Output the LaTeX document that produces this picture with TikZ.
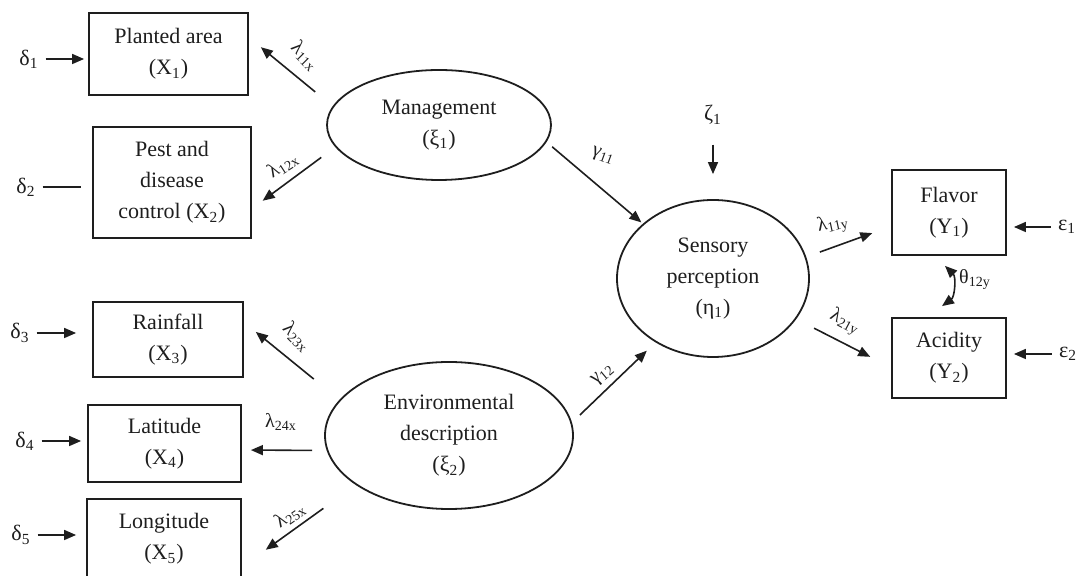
\documentclass[tikz,border=0pt]{standalone}
\usepackage{fontspec}
\setmainfont{Liberation Serif}
\usetikzlibrary{arrows.meta,shapes.geometric}
\definecolor{pathink}{HTML}{1E1E1E}
\newcommand{\idx}[1]{\textsubscript{#1}}

\begin{document}
\begin{tikzpicture}[x=0.5pt, y=-0.5pt, >={Triangle[length=6pt,width=5pt]},
                    every node/.style={pathink, font=\fontsize{11}{15.5}\selectfont},
                    obsbox/.style={draw, line width=0.9pt, align=center, inner sep=0pt},
                    latent/.style={draw, ellipse, line width=0.9pt, align=center, inner sep=0pt},
                    errline/.style={pathink, line width=0.8pt},
                    load/.style={errline, ->},
                    coef/.style={font=\fontsize{10}{12}\selectfont, inner sep=1pt}]

  \useasboundingbox (0,0) rectangle (1077,576);

  %% ---- observed indicators of the exogenous constructs ----
  \node[obsbox, minimum width=79.5pt, minimum height=41pt]   (pa)   at (168.5,54)  {Planted area\\(X\idx{1})};
  \node[obsbox, minimum width=79pt,   minimum height=55.5pt] (pdc)  at (172,182.5) {Pest and\\disease\\control (X\idx{2})};
  \node[obsbox, minimum width=75pt,   minimum height=37.5pt] (rain) at (168,339.5) {Rainfall\\(X\idx{3})};
  \node[obsbox, minimum width=76.5pt, minimum height=38.5pt] (lat)  at (164.5,443.5) {Latitude\\(X\idx{4})};
  \node[obsbox, minimum width=77pt,   minimum height=40pt]   (lon)  at (164,539)   {Longitude\\(X\idx{5})};

  %% measurement errors delta
  \node (d1) at (29,59)  {δ\idx{1}};
  \node (d2) at (26,187) {δ\idx{2}};
  \node (d3) at (20,333) {δ\idx{3}};
  \node (d4) at (25,441) {δ\idx{4}};
  \node (d5) at (21,535) {δ\idx{5}};
  \draw[load, shorten >=2pt]      (d1.east) -- (d1.east -| pa.west);
  \draw[errline, shorten >=5.5pt] (d2.east) -- (d2.east -| pdc.west);
  \draw[load, shorten >=8pt]      (d3.east) -- (d3.east -| rain.west);
  \draw[load, shorten >=3pt]      (d4.east) -- (d4.east -| lat.west);
  \draw[load, shorten >=5pt]      (d5.east) -- (d5.east -| lon.west);

  %% ---- latent constructs ----
  \node[latent, minimum width=112pt, minimum height=55pt]   (mgmt) at (439,125)   {Management\\(ξ\idx{1})};
  \node[latent, minimum width=124pt, minimum height=73.5pt] (env)  at (449,435.5) {Environmental\\description\\(ξ\idx{2})};
  \node[latent, minimum width=96pt,  minimum height=78.5pt] (sens) at (713,278.5) {Sensory\\perception\\(η\idx{1})};

  %% loadings of management
  \draw[load, shorten <=11.3pt, shorten >=7.7pt] (mgmt.170) -- ([yshift=8.3pt]pa.east);
  \draw[load, shorten <=8.7pt,  shorten >=6.7pt] (mgmt.192) -- ([yshift=-13.1pt]pdc.east);
  \node[coef, rotate=-45] (l11x) at (305,56)  {λ\idx{11x}};
  \node[coef, rotate=33]  (l12x) at (283,165) {λ\idx{12x}};

  %% loadings of environmental description
  \draw[load, shorten <=16.5pt, shorten >=7.7pt]  (env.162) -- ([yshift=8.65pt]rain.east);
  \draw[load, shorten <=7.3pt,  shorten >=4.5pt]  (env.187) -- ([yshift=-3.25pt]lat.east);
  \draw[load, shorten <=20pt,   shorten >=14.7pt] (env.208) -- ([yshift=-13.95pt]lon.east);
  \node[coef, rotate=-45] (l23x) at (297,337) {λ\idx{23x}};
  \node[coef]             (l24x) at (281,422) {λ\idx{24x}};
  \node[coef, rotate=35]  (l25x) at (290,515) {λ\idx{25x}};

  %% ---- structural paths ----
  \draw[load, shorten <=3.7pt, shorten >=1pt] (mgmt.351) -- (sens.142);
  \draw[load, shorten <=5.5pt, shorten >=6pt] (env.6) -- (sens.228);
  \node[coef, rotate=-20] (g11) at (603,156) {γ\idx{11}};
  \node[coef, rotate=40]  (g12) at (603,375) {γ\idx{12}};

  %% disturbance zeta
  \node (z1) at (713,115) {ζ\idx{1}};
  \draw[load, shorten <=6.5pt, shorten >=12.5pt] (z1) -- (sens);

  %% ---- indicators of sensory perception ----
  \node[obsbox, minimum width=57pt, minimum height=42.5pt] (flav) at (949,212.5) {Flavor\\(Y\idx{1})};
  \node[obsbox, minimum width=57pt, minimum height=40pt]   (acid) at (949,358)   {Acidity\\(Y\idx{2})};

  \draw[load, shorten <=7.25pt, shorten >=10pt]  (sens.13)  -- ([yshift=-6.9pt]flav.west);
  \draw[load, shorten <=10pt,   shorten >=11.7pt] (sens.-26) -- ([yshift=-4.75pt]acid.west);
  \node[coef, rotate=12]  (l11y) at (833,224) {λ\idx{11y}};
  \node[coef, rotate=-28] (l21y) at (845,322) {λ\idx{21y}};

  %% measurement errors epsilon and their covariance
  \node (e1) at (1067,227) {ε\idx{1}};
  \node (e2) at (1068,354) {ε\idx{2}};
  \draw[load, shorten >=3.5pt] (e1.west) -- (e1.west -| flav.east);
  \draw[load, shorten >=3.5pt] (e2.west) -- (e2.west -| acid.east);

  \draw[errline, <->] ([xshift=-2pt, yshift=-5pt]flav.south) to[bend left=50]
    ([xshift=-3.5pt, yshift=5.5pt]acid.north);
  \node[coef] (t12y) at (975,280) {θ\idx{12y}};

\end{tikzpicture}
\end{document}
